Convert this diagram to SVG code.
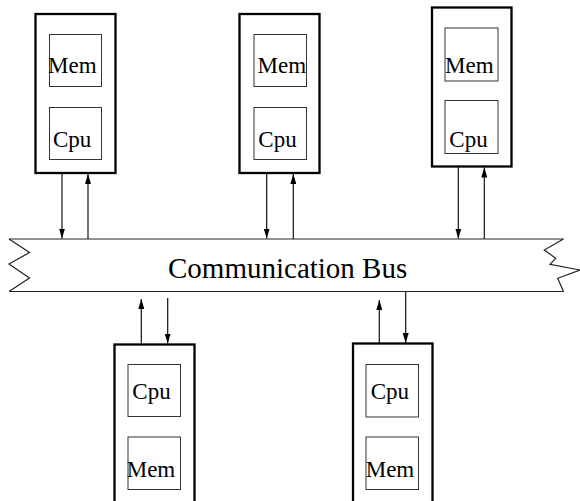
<svg xmlns="http://www.w3.org/2000/svg" width="580" height="501" viewBox="0 0 580 501">
  <defs>
    <marker id="arrow" viewBox="0 0 10 6" refX="10" refY="3" markerWidth="10" markerHeight="6" markerUnits="userSpaceOnUse" orient="auto">
      <path d="M0,0 L10,3 L0,6 Z" fill="#000"/>
    </marker>
    <style>
      .node { fill: none; stroke: #000; stroke-width: 2.3; }
      .unit { fill: none; stroke: #333; stroke-width: 1; }
      text { font-family: 'Liberation Serif', 'Times New Roman', Times, 'DejaVu Serif', serif; fill: #000; }
      .lbl { font-size: 23px; }
      .bus { fill: none; stroke: #222; stroke-width: 1.2; }
      .busText { font-size: 29px; }
      .link { fill: none; stroke: #111; stroke-width: 1.2; marker-end: url(#arrow); }
    </style>
  </defs>
  <rect width="580" height="501" fill="#fff"/>

  <!-- communication bus -->
  <g id="bus">
    <line class="bus" x1="9" y1="239" x2="563.5" y2="239"/>
    <line class="bus" x1="9" y1="291.5" x2="563.5" y2="291.5"/>
    <polyline class="bus" points="9,239 29.5,252.5 9,264 29.5,278 9,291.5"/>
    <polyline class="bus" points="563.5,239 544.3,250 555.7,258.3 550,264.3 580,270 557.7,278.3 563.5,291.5"/>
    <text class="busText" x="168" y="278">Communication Bus</text>
  </g>

  <!-- processor nodes -->
  <g id="node1">
    <rect class="node" x="35.5" y="14" width="80" height="159"/>
    <rect class="unit" x="49.5" y="34.5" width="52" height="52"/>
    <rect class="unit" x="49.5" y="107.5" width="52" height="52"/>
    <text class="lbl" x="48" y="73">Mem</text>
    <text class="lbl" x="53" y="147">Cpu</text>
  </g>
  <g id="node2">
    <rect class="node" x="239.5" y="14" width="80" height="159"/>
    <rect class="unit" x="254" y="34.5" width="52.5" height="52"/>
    <rect class="unit" x="254" y="107.5" width="52.5" height="52"/>
    <text class="lbl" x="257.5" y="73">Mem</text>
    <text class="lbl" x="258.3" y="147">Cpu</text>
  </g>
  <g id="node3">
    <rect class="node" x="432" y="7.5" width="79.5" height="159"/>
    <rect class="unit" x="445" y="28" width="53" height="53"/>
    <rect class="unit" x="445" y="100.5" width="53" height="53"/>
    <text class="lbl" x="445" y="73">Mem</text>
    <text class="lbl" x="449.3" y="146.7">Cpu</text>
  </g>
  <g id="node4">
    <rect class="node" x="114.5" y="344.5" width="80" height="170"/>
    <rect class="unit" x="128" y="364.5" width="52.5" height="52"/>
    <rect class="unit" x="128" y="437" width="52.5" height="52.5"/>
    <text class="lbl" x="132.3" y="398.5">Cpu</text>
    <text class="lbl" x="126.7" y="476.7">Mem</text>
  </g>
  <g id="node5">
    <rect class="node" x="353" y="343.5" width="79.5" height="170"/>
    <rect class="unit" x="366" y="364.5" width="52.5" height="52.5"/>
    <rect class="unit" x="366" y="437" width="52.5" height="52.5"/>
    <text class="lbl" x="370.7" y="398.5">Cpu</text>
    <text class="lbl" x="365.7" y="476.7">Mem</text>
  </g>

  <!-- bus connections -->
  <g id="connectors">
    <line class="link" x1="62" y1="173" x2="62" y2="238.5"/>
    <line class="link" x1="88" y1="239" x2="88" y2="174"/>
    <line class="link" x1="266.7" y1="173" x2="266.7" y2="238.5"/>
    <line class="link" x1="293.3" y1="239" x2="293.3" y2="174"/>
    <line class="link" x1="458.3" y1="166.5" x2="458.3" y2="238.5"/>
    <line class="link" x1="484.3" y1="239" x2="484.3" y2="167.5"/>
    <line class="link" x1="141.3" y1="344" x2="141.3" y2="299"/>
    <line class="link" x1="167.7" y1="298" x2="167.7" y2="343.5"/>
    <line class="link" x1="379.3" y1="343" x2="379.3" y2="300"/>
    <line class="link" x1="405.7" y1="291.5" x2="405.7" y2="343"/>
  </g>
</svg>
